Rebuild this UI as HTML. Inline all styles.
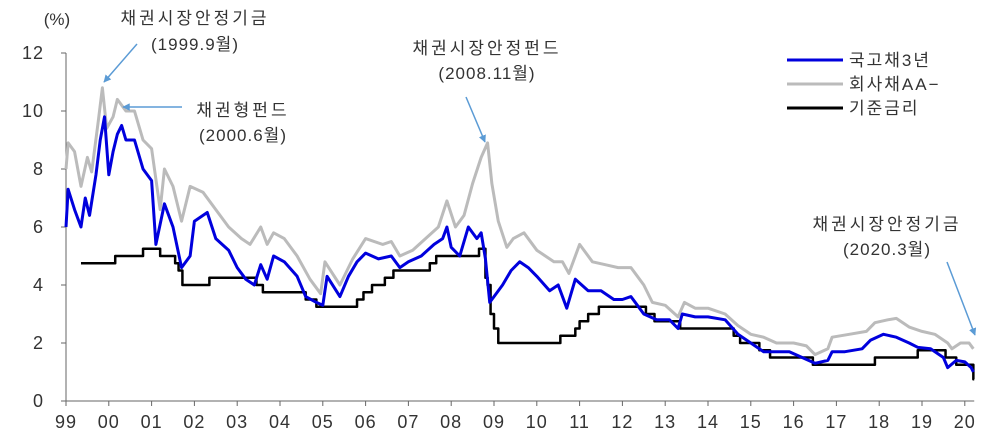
<!DOCTYPE html>
<html><head><meta charset="utf-8"><style>
html,body{margin:0;padding:0;background:#fff;}
svg{display:block;font-family:"Liberation Sans","Noto Sans CJK KR",sans-serif;}
</style></head><body>
<svg id="chart" width="1000" height="434" viewBox="0 0 1000 434">
<defs><marker id="ah" viewBox="0 0 10 10" refX="9" refY="5" markerWidth="5" markerHeight="5" orient="auto"><path d="M0,0L10,5L0,10z" fill="#5b9bd5"/></marker></defs>
<g id="axes"></g>
<g id="series"></g>
<g font-size="17" fill="#333" text-anchor="middle" letter-spacing="3">
<text x="57" y="25" letter-spacing="0">(%)</text>
<text x="195" y="24">채권시장안정기금</text>
<text x="195" y="50" letter-spacing="1">(1999.9월)</text>
<text x="243" y="116">채권형펀드</text>
<text x="243" y="141" letter-spacing="1">(2000.6월)</text>
<text x="487" y="54">채권시장안정펀드</text>
<text x="487" y="79" letter-spacing="1">(2008.11월)</text>
<text x="887" y="230">채권시장안정기금</text>
<text x="887" y="255" letter-spacing="1">(2020.3월)</text>
</g>
<g stroke="#5b9bd5" stroke-width="1.5" marker-end="url(#ah)">
<line x1="137" y1="44" x2="104" y2="82"/>
<line x1="182" y1="107" x2="123" y2="107"/>
<line x1="466" y1="97" x2="485" y2="142"/>
<line x1="947" y1="262" x2="975" y2="335"/>
</g>
<g font-size="17" fill="#333" letter-spacing="2">
<g><line x1="787" y1="60" x2="843" y2="60" stroke="#0000dd" stroke-width="3"/><text x="849" y="66">국고채3년</text></g>
<g><line x1="787" y1="84" x2="843" y2="84" stroke="#bbbbbb" stroke-width="3"/><text x="849" y="90">회사채AA−</text></g>
<g><line x1="787" y1="108" x2="843" y2="108" stroke="#000" stroke-width="3"/><text x="849" y="114">기준금리</text></g>
</g>
</svg>
<script>
const xTickLabels=["99","00","01","02","03","04","05","06","07","08","09","10","11","12","13","14","15","16","17","18","19","20"];
const yTicks=[0,2,4,6,8,10,12];
const govT=[1999,1999.05,1999.2,1999.35,1999.45,1999.55,1999.7,1999.8,1999.9,2000,2000.1,2000.2,2000.3,2000.4,2000.6,2000.8,2001,2001.1,2001.3,2001.5,2001.7,2001.9,2002,2002.3,2002.5,2002.8,2003,2003.2,2003.4,2003.55,2003.7,2003.85,2004.1,2004.4,2004.6,2004.85,2005,2005.1,2005.4,2005.6,2005.8,2006,2006.3,2006.6,2006.8,2007,2007.3,2007.6,2007.8,2007.9,2008,2008.2,2008.4,2008.6,2008.7,2008.8,2008.9,2009,2009.2,2009.4,2009.6,2009.8,2010,2010.3,2010.5,2010.7,2010.9,2011.2,2011.5,2011.8,2012,2012.2,2012.5,2012.8,2013.1,2013.3,2013.4,2013.7,2014,2014.4,2014.7,2015,2015.3,2015.6,2015.9,2016.2,2016.5,2016.8,2016.9,2017.2,2017.6,2017.8,2018.1,2018.4,2018.7,2018.9,2019.2,2019.5,2019.6,2019.8,2020,2020.15,2020.2];
const govV=[6.0,7.3,6.6,6.0,7.0,6.4,7.8,9.0,9.8,7.8,8.6,9.2,9.5,9.0,9.0,8.0,7.6,5.4,6.8,6.0,4.6,5.0,6.2,6.5,5.6,5.2,4.6,4.2,4.0,4.7,4.2,5.0,4.8,4.3,3.6,3.4,3.3,4.3,3.6,4.3,4.8,5.1,4.9,5.0,4.6,4.8,5.0,5.4,5.6,6.0,5.3,5.0,6.0,5.6,5.8,4.9,3.4,3.6,4.0,4.5,4.8,4.6,4.3,3.8,4.0,3.2,4.2,3.8,3.8,3.5,3.5,3.6,3.0,2.8,2.8,2.5,3.0,2.9,2.9,2.8,2.3,2.0,1.7,1.7,1.7,1.5,1.3,1.4,1.7,1.7,1.8,2.1,2.3,2.2,2.0,1.85,1.8,1.5,1.15,1.4,1.35,1.15,1.0];
const corpT=[1999,1999.05,1999.2,1999.35,1999.5,1999.6,1999.75,1999.85,1999.95,2000.1,2000.2,2000.4,2000.6,2000.8,2001,2001.2,2001.3,2001.5,2001.7,2001.9,2002.2,2002.5,2002.8,2003.1,2003.3,2003.55,2003.7,2003.85,2004.1,2004.4,2004.7,2004.95,2005.05,2005.4,2005.7,2006,2006.4,2006.6,2006.8,2007.1,2007.4,2007.7,2007.9,2008.1,2008.3,2008.5,2008.7,2008.85,2008.95,2009.1,2009.3,2009.45,2009.7,2010,2010.2,2010.4,2010.6,2010.75,2011,2011.3,2011.6,2011.9,2012.2,2012.5,2012.7,2013,2013.3,2013.45,2013.7,2014,2014.4,2014.7,2015,2015.3,2015.6,2016,2016.3,2016.5,2016.8,2016.9,2017.3,2017.7,2017.9,2018.2,2018.4,2018.7,2019,2019.3,2019.6,2019.7,2019.9,2020.1,2020.2];
const corpV=[8.0,8.9,8.6,7.4,8.4,7.9,9.6,10.8,9.4,9.8,10.4,10.0,10.0,9.0,8.7,6.6,8.0,7.4,6.2,7.4,7.2,6.6,6.0,5.6,5.4,6.0,5.4,5.8,5.6,5.0,4.2,3.7,4.8,4.0,4.9,5.6,5.4,5.5,5.0,5.2,5.6,6.0,6.9,6.0,6.4,7.5,8.4,8.9,7.5,6.2,5.3,5.6,5.8,5.2,5.0,4.8,4.8,4.4,5.4,4.8,4.7,4.6,4.6,4.0,3.4,3.3,2.9,3.4,3.2,3.2,3.0,2.6,2.3,2.2,2.0,2.0,1.9,1.6,1.8,2.2,2.3,2.4,2.7,2.8,2.85,2.55,2.4,2.3,2.0,1.8,2.0,2.0,1.8];
const baseT=[1999.35,2000.15,2000.8,2001.2,2001.55,2001.63,2001.72,2002.35,2003.45,2003.6,2004.6,2004.85,2005.8,2005.95,2006.15,2006.45,2006.65,2007.5,2007.65,2008.65,2008.8,2008.85,2008.92,2009.0,2009.1,2010.55,2010.9,2011.0,2011.2,2011.45,2012.55,2012.75,2013.35,2014.6,2014.75,2015.2,2015.45,2016.45,2017.9,2018.9,2019.55,2019.8,2020.2,2020.22];
const baseV=[4.75,5.0,5.25,5.0,4.75,4.5,4.0,4.25,4.0,3.75,3.5,3.25,3.5,3.75,4.0,4.25,4.5,4.75,5.0,5.25,4.25,4.0,3.0,2.5,2.0,2.25,2.5,2.75,3.0,3.25,3.0,2.75,2.5,2.25,2.0,1.75,1.5,1.25,1.5,1.75,1.5,1.25,0.75,0.75];

const NS='http://www.w3.org/2000/svg';
const X0=66,YR=42.8,Y0=401,PU=29;
function xs(t){return X0+(t-1999)*YR;}
function ys(v){return Y0-v*PU;}
const ax=document.getElementById('axes');
const sr=document.getElementById('series');
function mk(tag,attrs,parent){const e=document.createElementNS(NS,tag);for(const k in attrs)e.setAttribute(k,attrs[k]);parent.appendChild(e);return e;}
let e=mk('line',{x1:X0,y1:ys(12),x2:X0,y2:Y0,stroke:'#666','stroke-width':1},ax);


e=mk('line',{x1:X0,y1:Y0,x2:xs(2020.22),y2:Y0,stroke:'#666','stroke-width':1},ax);


yTicks.forEach(v=>{
  mk('line',{x1:X0-5,y1:ys(v),x2:X0,y2:ys(v),stroke:'#666'},ax);
  const t=mk('text',{x:X0-22,y:ys(v)+6,'text-anchor':'end','font-size':18,fill:'#333','letter-spacing':1},ax);
  t.textContent=v;
  
  
});
xTickLabels.forEach((l,i)=>{
  const x=xs(1999+i);
  mk('line',{x1:x,y1:Y0,x2:x,y2:Y0+5,stroke:'#666'},ax);
  const t=mk('text',{x:x,y:Y0+27,'text-anchor':'middle','font-size':18,fill:'#333','letter-spacing':1},ax);
  t.textContent=l;
  
  
});
function line(T,V,color,w,name,step){
  let d='';
  T.forEach((t,i)=>{
    if(i===0)d+='M'+xs(t)+','+ys(V[i]);
    else if(step)d+='L'+xs(t)+','+ys(V[i-1])+'L'+xs(t)+','+ys(V[i]);
    else d+='L'+xs(t)+','+ys(V[i]);
  });
  const p=mk('path',{d:d,fill:'none',stroke:color,'stroke-width':w,'stroke-linejoin':'round'},sr);
  
  
}
line(corpT,corpV,'#bbbbbb',3,'corp-aa-line',false);
line(baseT,baseV,'#000',2.5,'base-rate-line',true);
line(govT,govV,'#0000dd',3,'gov-3y-line',false);
</script>
</body></html>
